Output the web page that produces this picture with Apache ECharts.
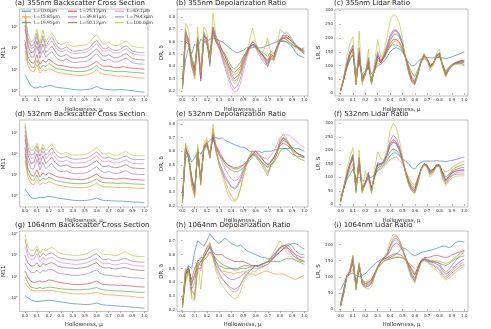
<!DOCTYPE html>
<html><head><meta charset="utf-8">
<script src="https://cdn.jsdelivr.net/npm/echarts@6/dist/echarts.min.js"></script>
<style>html,body{margin:0;padding:0;background:#fff}#c{width:491px;height:329px}</style>
</head><body><div id="c"></div>
<script>
// ---------------- data ----------------
const hollowness = [0,0.025,0.05,0.075,0.1,0.125,0.15,0.175,0.2,0.225,0.25,0.275,0.3,0.325,0.35,0.375,0.4,0.425,0.45,0.475,0.5,0.525,0.55,0.575,0.6,0.625,0.65,0.675,0.7,0.725,0.75,0.775,0.8,0.825,0.85,0.875,0.9,0.925,0.95,0.975,1.0];
const sizeLabels = ['L=10.0μm','L=15.85μm','L=19.95μm','L=25.12μm','L=39.81μm','L=50.12μm','L=63.1μm','L=79.43μm','L=100.0μm'];
const xTickValues = [0,0.1,0.2,0.3,0.4,0.5,0.6,0.7,0.8,0.9,1.0];
const drTickValues = [0.2,0.3,0.4,0.5,0.6,0.7,0.8];
const drTickValues1064 = [0.2,0.3,0.4,0.5,0.6,0.7];
const lrTickValues = [0,50,100,150,200,250,300];
const lrTickValues1064 = [0,50,100,150,200];

// (a) 355nm backscatter M11, stored as log10(M11)
const bsc355_log10 = [
[0.77,0.5,0.25,0.15,0.15,0.2,0.18,0.22,0.26,0.25,0.2,0.17,0.15,0.14,0.12,0.1,0.08,0.07,0.06,0.06,0.07,0.08,0.1,0.15,0.22,0.15,0.1,0.08,0.07,0.06,0.05,0.06,0.07,0.06,0.05,0.03,0.02,0.0,-0.02,-0.04,-0.05],
[1.9,1.2,0.95,0.9,1.25,0.85,1.0,0.95,1.05,1.0,0.92,0.88,0.85,0.83,0.8,0.78,0.76,0.75,0.74,0.74,0.75,0.77,0.82,0.9,1.0,0.88,0.8,0.78,0.77,0.75,0.72,0.7,0.7,0.71,0.69,0.67,0.65,0.63,0.62,0.61,0.6],
[2.2,1.4,1.15,1.1,1.45,1.05,1.2,1.15,1.3,1.2,1.1,1.05,1.02,1.0,0.97,0.95,0.93,0.92,0.92,0.92,0.93,0.96,1.02,1.1,1.2,1.08,1.0,0.97,0.96,0.94,0.92,0.91,0.92,0.93,0.91,0.89,0.88,0.87,0.86,0.85,0.84],
[2.4,1.6,1.35,1.3,1.7,1.25,1.45,1.35,1.5,1.4,1.28,1.22,1.2,1.18,1.15,1.12,1.1,1.09,1.09,1.1,1.12,1.15,1.22,1.3,1.4,1.27,1.18,1.16,1.17,1.14,1.1,1.1,1.12,1.15,1.12,1.09,1.07,1.06,1.05,1.04,1.03],
[2.9,1.95,1.6,1.6,2.1,1.55,1.9,1.6,1.75,1.85,1.65,1.5,1.42,1.45,1.5,1.4,1.35,1.34,1.36,1.37,1.39,1.43,1.52,1.65,1.75,1.6,1.45,1.43,1.5,1.42,1.36,1.37,1.42,1.5,1.55,1.42,1.33,1.3,1.28,1.27,1.26],
[3.1,2.15,1.8,1.85,2.35,1.75,2.2,1.8,1.95,2.1,1.9,1.7,1.62,1.66,1.72,1.6,1.55,1.54,1.56,1.57,1.59,1.64,1.74,1.88,1.98,1.82,1.66,1.64,1.71,1.62,1.56,1.57,1.62,1.71,1.76,1.63,1.53,1.5,1.48,1.47,1.46],
[3.3,2.35,2.0,2.05,2.55,1.95,2.45,2.0,2.2,2.35,2.12,1.92,1.84,1.88,1.95,1.82,1.76,1.75,1.78,1.79,1.81,1.86,1.97,2.12,2.22,2.05,1.88,1.86,1.94,1.84,1.78,1.79,1.84,1.94,1.99,1.85,1.75,1.72,1.7,1.69,1.68],
[3.5,2.5,2.1,2.2,2.7,2.05,2.6,2.1,2.35,2.55,2.28,2.05,1.97,2.0,2.08,1.95,1.88,1.88,1.9,1.91,1.93,1.98,2.1,2.27,2.38,2.2,2.0,1.98,2.06,1.96,1.9,1.91,1.96,2.07,2.12,1.98,1.87,1.84,1.82,1.81,1.8],
[3.72,2.7,2.3,2.4,2.9,2.25,2.85,2.3,2.55,2.75,2.5,2.25,2.18,2.22,2.3,2.15,2.1,2.1,2.13,2.14,2.16,2.22,2.35,2.52,2.65,2.45,2.23,2.21,2.3,2.19,2.13,2.14,2.19,2.3,2.36,2.2,2.1,2.07,2.05,2.04,2.03]
];
// (b) 355nm depolarization ratio
const dr355 = [
[0.25,0.45,0.55,0.5,0.58,0.55,0.62,0.6,0.6,0.62,0.63,0.62,0.61,0.6,0.58,0.56,0.54,0.52,0.51,0.52,0.53,0.55,0.55,0.55,0.56,0.55,0.55,0.56,0.57,0.58,0.59,0.6,0.61,0.6,0.6,0.58,0.56,0.52,0.49,0.48,0.47],
[0.22,0.65,0.6,0.45,0.35,0.6,0.3,0.62,0.6,0.5,0.7,0.62,0.58,0.52,0.48,0.42,0.36,0.33,0.35,0.38,0.45,0.5,0.55,0.58,0.56,0.52,0.5,0.48,0.45,0.5,0.48,0.55,0.6,0.62,0.63,0.62,0.6,0.57,0.55,0.53,0.52],
[0.25,0.62,0.6,0.48,0.4,0.58,0.35,0.6,0.58,0.5,0.66,0.6,0.57,0.53,0.5,0.45,0.4,0.38,0.4,0.43,0.48,0.52,0.56,0.57,0.55,0.53,0.52,0.5,0.48,0.52,0.5,0.56,0.6,0.61,0.6,0.59,0.57,0.56,0.55,0.54,0.55],
[0.23,0.68,0.62,0.45,0.38,0.62,0.33,0.65,0.62,0.48,0.72,0.64,0.6,0.53,0.48,0.42,0.37,0.35,0.37,0.4,0.47,0.52,0.56,0.58,0.57,0.53,0.5,0.47,0.44,0.5,0.48,0.55,0.61,0.63,0.64,0.62,0.6,0.58,0.56,0.54,0.53],
[0.24,0.66,0.6,0.42,0.32,0.6,0.28,0.64,0.63,0.45,0.7,0.62,0.56,0.48,0.4,0.33,0.26,0.22,0.24,0.3,0.4,0.48,0.55,0.58,0.56,0.52,0.48,0.44,0.42,0.47,0.45,0.54,0.6,0.65,0.65,0.64,0.61,0.58,0.55,0.52,0.5],
[0.22,0.6,0.58,0.44,0.36,0.62,0.3,0.66,0.6,0.42,0.68,0.6,0.55,0.5,0.45,0.4,0.34,0.3,0.32,0.36,0.44,0.5,0.56,0.6,0.57,0.53,0.5,0.46,0.4,0.48,0.46,0.55,0.62,0.63,0.62,0.6,0.58,0.56,0.55,0.53,0.52],
[0.26,0.64,0.58,0.4,0.3,0.58,0.28,0.6,0.64,0.44,0.66,0.6,0.54,0.46,0.38,0.3,0.23,0.19,0.2,0.26,0.36,0.46,0.54,0.57,0.55,0.5,0.46,0.42,0.4,0.46,0.45,0.52,0.6,0.66,0.68,0.66,0.62,0.58,0.54,0.52,0.5],
[0.24,0.7,0.6,0.4,0.33,0.64,0.3,0.68,0.62,0.4,0.72,0.63,0.57,0.5,0.44,0.38,0.32,0.28,0.3,0.34,0.42,0.5,0.56,0.6,0.58,0.54,0.5,0.47,0.43,0.48,0.47,0.56,0.62,0.64,0.64,0.62,0.6,0.57,0.55,0.53,0.51],
[0.22,0.75,0.7,0.45,0.3,0.72,0.35,0.72,0.68,0.45,0.83,0.65,0.55,0.5,0.42,0.35,0.3,0.26,0.28,0.35,0.45,0.52,0.6,0.71,0.6,0.52,0.5,0.55,0.63,0.5,0.45,0.55,0.7,0.68,0.66,0.64,0.6,0.56,0.54,0.52,0.5]
];
// (c) 355nm lidar ratio
const lr355 = [
[10,50,90,120,140,80,110,70,80,90,70,85,100,105,115,130,150,160,165,160,150,130,110,100,100,115,125,128,130,128,128,130,130,128,125,128,132,136,140,145,150],
[8,45,90,130,150,40,130,55,70,100,45,80,110,105,125,145,170,185,190,180,160,130,95,60,45,75,110,130,125,105,110,130,135,100,75,90,100,110,115,118,120],
[10,50,95,125,140,55,120,60,75,95,50,85,120,110,130,150,170,175,175,170,155,130,100,75,60,85,115,125,120,100,108,128,132,105,80,95,105,110,112,115,115],
[8,50,100,140,160,40,140,50,75,110,40,85,130,110,130,155,180,195,195,185,165,130,90,55,40,75,115,135,125,100,110,135,140,100,70,90,100,110,115,118,120],
[8,50,105,145,165,35,150,45,70,120,35,90,140,115,135,165,200,220,225,210,180,130,80,45,35,70,115,140,125,95,108,138,145,100,65,85,100,108,110,112,110],
[10,50,100,140,160,40,145,50,75,115,40,90,135,112,132,160,190,210,215,205,175,130,85,50,38,72,112,138,122,98,108,135,142,102,68,88,100,108,112,114,112],
[8,52,105,150,170,30,155,40,65,125,35,95,145,115,138,170,205,225,228,212,180,128,78,40,30,68,115,142,125,92,106,140,148,98,62,84,98,106,108,108,105],
[8,55,110,150,175,30,165,40,70,130,35,95,150,118,140,172,210,228,230,215,182,128,78,42,32,68,118,140,122,90,105,138,145,95,60,85,98,105,108,108,102],
[5,60,130,180,205,30,225,30,70,160,30,110,195,130,150,200,260,285,280,255,200,125,70,40,30,68,120,145,115,80,100,145,160,95,60,88,100,105,105,102,98]
];
// (d) 532nm backscatter M11, stored as log10(M11)
const bsc532_log10 = [
[0.35,0.15,-0.05,-0.1,-0.08,-0.05,-0.06,-0.03,0.0,-0.02,-0.05,-0.08,-0.1,-0.12,-0.14,-0.16,-0.18,-0.19,-0.2,-0.2,-0.19,-0.18,-0.16,-0.12,-0.08,-0.14,-0.18,-0.2,-0.2,-0.21,-0.22,-0.22,-0.22,-0.23,-0.24,-0.25,-0.26,-0.27,-0.28,-0.29,-0.3],
[1.7,0.9,0.6,0.55,0.8,0.55,0.65,0.6,0.7,0.65,0.58,0.53,0.5,0.48,0.46,0.44,0.42,0.41,0.41,0.41,0.42,0.44,0.48,0.55,0.62,0.52,0.46,0.45,0.45,0.44,0.43,0.42,0.42,0.43,0.42,0.41,0.4,0.39,0.39,0.38,0.38],
[2.0,1.1,0.8,0.75,1.0,0.72,0.85,0.8,0.9,0.85,0.77,0.72,0.69,0.67,0.65,0.63,0.61,0.6,0.6,0.6,0.61,0.63,0.68,0.75,0.82,0.72,0.66,0.64,0.64,0.63,0.62,0.61,0.62,0.63,0.62,0.6,0.59,0.58,0.58,0.57,0.57],
[2.3,1.35,1.0,0.95,1.25,0.92,1.1,1.0,1.12,1.05,0.97,0.92,0.89,0.87,0.85,0.83,0.81,0.8,0.8,0.8,0.81,0.84,0.9,0.98,1.05,0.94,0.87,0.85,0.86,0.84,0.82,0.82,0.84,0.86,0.84,0.81,0.8,0.79,0.78,0.77,0.77],
[2.7,1.7,1.3,1.3,1.75,1.25,1.6,1.3,1.45,1.55,1.35,1.22,1.16,1.18,1.2,1.12,1.08,1.07,1.08,1.09,1.1,1.14,1.22,1.32,1.4,1.27,1.15,1.13,1.18,1.12,1.07,1.08,1.12,1.18,1.21,1.12,1.06,1.05,1.04,1.03,1.03],
[2.9,1.95,1.55,1.6,2.0,1.5,1.9,1.55,1.7,1.85,1.62,1.48,1.42,1.45,1.48,1.4,1.36,1.35,1.36,1.37,1.38,1.42,1.5,1.6,1.68,1.54,1.42,1.4,1.45,1.39,1.35,1.36,1.4,1.46,1.49,1.4,1.34,1.33,1.32,1.31,1.31],
[3.1,2.15,1.78,1.82,2.2,1.72,2.12,1.78,1.92,2.08,1.85,1.7,1.63,1.66,1.7,1.62,1.58,1.57,1.58,1.59,1.6,1.64,1.72,1.82,1.9,1.76,1.64,1.62,1.67,1.61,1.57,1.58,1.62,1.68,1.71,1.62,1.56,1.55,1.54,1.54,1.54],
[3.3,2.3,1.95,2.0,2.38,1.9,2.3,1.95,2.1,2.28,2.04,1.88,1.81,1.84,1.88,1.8,1.76,1.75,1.76,1.77,1.78,1.82,1.9,2.0,2.1,1.95,1.82,1.8,1.86,1.79,1.75,1.76,1.8,1.87,1.9,1.8,1.75,1.74,1.74,1.74,1.74],
[3.45,2.5,2.15,2.2,2.5,2.1,2.45,2.15,2.3,2.48,2.25,2.08,2.0,2.03,2.08,1.99,1.95,1.94,1.95,1.96,1.98,2.02,2.1,2.2,2.32,2.15,2.01,1.99,2.05,1.98,1.94,1.95,2.0,2.08,2.12,2.0,1.94,1.93,1.92,1.92,1.92]
];
// (e) 532nm depolarization ratio
const dr532 = [
[0.25,0.55,0.58,0.52,0.55,0.6,0.58,0.62,0.66,0.68,0.7,0.7,0.69,0.7,0.68,0.67,0.66,0.65,0.64,0.63,0.63,0.62,0.6,0.6,0.6,0.6,0.59,0.6,0.6,0.6,0.61,0.61,0.62,0.62,0.62,0.62,0.63,0.62,0.62,0.61,0.6],
[0.22,0.65,0.55,0.35,0.27,0.62,0.35,0.64,0.68,0.55,0.76,0.62,0.52,0.45,0.38,0.32,0.27,0.24,0.26,0.32,0.42,0.5,0.56,0.6,0.58,0.55,0.52,0.48,0.45,0.5,0.52,0.58,0.66,0.7,0.68,0.64,0.6,0.57,0.55,0.54,0.53],
[0.25,0.6,0.55,0.4,0.32,0.58,0.4,0.6,0.64,0.58,0.7,0.62,0.58,0.54,0.5,0.48,0.46,0.45,0.45,0.46,0.48,0.5,0.53,0.56,0.58,0.55,0.52,0.5,0.48,0.5,0.52,0.55,0.6,0.62,0.62,0.6,0.58,0.57,0.56,0.56,0.55],
[0.24,0.62,0.57,0.4,0.3,0.6,0.38,0.62,0.66,0.58,0.72,0.64,0.6,0.56,0.52,0.5,0.48,0.47,0.47,0.48,0.5,0.52,0.55,0.57,0.6,0.57,0.55,0.52,0.5,0.52,0.55,0.6,0.65,0.68,0.67,0.65,0.62,0.6,0.58,0.57,0.56],
[0.23,0.62,0.55,0.38,0.28,0.6,0.36,0.63,0.66,0.55,0.73,0.6,0.5,0.45,0.4,0.37,0.34,0.33,0.35,0.4,0.46,0.52,0.56,0.58,0.56,0.53,0.5,0.46,0.42,0.5,0.53,0.58,0.66,0.7,0.68,0.65,0.62,0.6,0.58,0.56,0.55],
[0.24,0.6,0.56,0.42,0.32,0.6,0.4,0.62,0.65,0.58,0.7,0.63,0.58,0.55,0.52,0.5,0.49,0.48,0.48,0.49,0.5,0.52,0.55,0.58,0.6,0.58,0.55,0.52,0.5,0.52,0.55,0.6,0.64,0.66,0.65,0.63,0.61,0.59,0.58,0.57,0.56],
[0.23,0.6,0.55,0.4,0.3,0.62,0.38,0.64,0.67,0.58,0.74,0.65,0.58,0.52,0.47,0.43,0.4,0.38,0.39,0.42,0.47,0.52,0.57,0.6,0.6,0.58,0.56,0.55,0.54,0.57,0.6,0.65,0.7,0.72,0.72,0.72,0.7,0.68,0.66,0.64,0.63],
[0.25,0.63,0.57,0.4,0.3,0.62,0.38,0.63,0.66,0.55,0.72,0.6,0.52,0.47,0.42,0.38,0.34,0.32,0.34,0.38,0.45,0.5,0.55,0.58,0.57,0.54,0.52,0.5,0.48,0.53,0.56,0.6,0.68,0.7,0.69,0.66,0.62,0.6,0.58,0.57,0.56],
[0.22,0.66,0.6,0.35,0.26,0.65,0.35,0.66,0.7,0.55,0.8,0.62,0.5,0.42,0.35,0.28,0.24,0.23,0.25,0.32,0.43,0.5,0.56,0.6,0.58,0.55,0.52,0.48,0.44,0.48,0.52,0.58,0.68,0.73,0.7,0.65,0.6,0.57,0.55,0.54,0.53]
];
// (f) 532nm lidar ratio
const lr532 = [
[30,60,90,110,130,95,100,90,85,95,100,110,125,135,145,160,180,190,190,180,170,160,150,135,130,145,155,160,160,160,160,162,160,160,158,160,162,165,168,172,175],
[20,55,95,125,150,70,130,60,75,95,60,100,125,130,140,150,165,172,175,165,150,125,100,80,70,100,130,145,140,125,130,140,140,130,120,125,135,145,150,155,160],
[15,55,100,140,170,60,155,60,80,105,60,100,135,140,150,170,195,205,200,185,160,125,90,70,60,95,130,150,145,125,130,145,145,120,100,110,125,135,140,145,148],
[12,60,105,145,175,55,160,55,80,110,55,105,145,145,155,180,215,230,225,200,165,120,85,62,55,90,130,150,145,120,128,145,145,115,90,105,120,128,132,135,138],
[10,60,110,150,180,50,170,50,78,115,50,110,150,150,160,190,235,255,245,215,170,120,80,55,48,85,130,150,142,115,125,145,145,110,85,100,115,122,125,128,130],
[10,58,108,148,178,52,165,52,80,112,52,108,148,148,158,185,225,240,232,208,168,120,82,58,50,88,130,150,142,118,126,145,145,112,88,102,116,122,124,125,125],
[10,60,110,150,182,48,170,48,78,118,48,112,152,150,160,188,225,238,230,205,165,118,78,52,45,82,128,148,140,112,122,142,142,105,80,95,108,115,118,120,120],
[8,60,112,152,185,45,175,45,76,120,45,115,155,150,160,185,220,232,225,200,162,115,75,50,42,80,126,148,138,108,120,140,140,100,75,92,105,110,112,112,112],
[5,65,130,175,210,40,200,40,125,90,40,130,195,170,165,200,270,300,285,240,180,115,70,48,40,78,125,150,135,100,115,140,140,90,68,85,98,103,105,105,105]
];
// (g) 1064nm backscatter M11, stored as log10(M11)
const bsc1064_log10 = [
[0.1,0.0,-0.1,-0.15,-0.19,-0.17,-0.15,-0.13,-0.12,-0.13,-0.15,-0.18,-0.2,-0.22,-0.24,-0.26,-0.28,-0.29,-0.3,-0.31,-0.32,-0.32,-0.31,-0.28,-0.25,-0.3,-0.33,-0.35,-0.36,-0.37,-0.38,-0.39,-0.4,-0.41,-0.42,-0.43,-0.45,-0.46,-0.47,-0.48,-0.49],
[0.7,0.5,0.38,0.33,0.32,0.34,0.32,0.33,0.35,0.34,0.32,0.29,0.27,0.25,0.23,0.21,0.19,0.18,0.18,0.18,0.18,0.19,0.2,0.23,0.26,0.21,0.17,0.15,0.14,0.13,0.12,0.11,0.1,0.09,0.08,0.07,0.05,0.04,0.02,0.01,0.0],
[1.0,0.7,0.5,0.46,0.44,0.48,0.44,0.47,0.5,0.49,0.47,0.44,0.42,0.41,0.4,0.39,0.38,0.37,0.37,0.38,0.39,0.4,0.42,0.45,0.48,0.42,0.38,0.36,0.35,0.34,0.33,0.32,0.32,0.31,0.3,0.29,0.28,0.27,0.26,0.26,0.25],
[1.28,0.95,0.78,0.72,0.75,0.8,0.74,0.78,0.84,0.82,0.78,0.74,0.71,0.69,0.67,0.65,0.63,0.62,0.62,0.63,0.64,0.66,0.69,0.74,0.79,0.7,0.64,0.62,0.61,0.6,0.6,0.59,0.59,0.58,0.57,0.56,0.55,0.53,0.52,0.51,0.5],
[1.65,1.35,1.2,1.18,1.3,1.15,1.28,1.25,1.35,1.33,1.25,1.18,1.14,1.12,1.1,1.08,1.06,1.05,1.06,1.08,1.1,1.14,1.2,1.26,1.3,1.18,1.1,1.07,1.06,1.04,1.02,1.01,1.02,1.0,0.98,0.96,0.95,0.94,0.93,0.92,0.91],
[2.0,1.65,1.5,1.5,1.65,1.45,1.62,1.55,1.62,1.66,1.58,1.5,1.45,1.43,1.41,1.4,1.39,1.38,1.39,1.41,1.43,1.47,1.53,1.6,1.65,1.52,1.43,1.4,1.42,1.38,1.36,1.37,1.4,1.42,1.41,1.37,1.34,1.32,1.3,1.29,1.28],
[2.45,1.95,1.8,1.82,2.05,1.7,1.9,1.78,1.87,1.9,1.82,1.72,1.66,1.64,1.62,1.6,1.58,1.57,1.58,1.6,1.62,1.66,1.73,1.8,1.85,1.72,1.62,1.6,1.63,1.58,1.55,1.56,1.6,1.63,1.62,1.57,1.54,1.52,1.51,1.5,1.5],
[2.75,2.15,1.98,2.0,2.3,1.9,2.1,1.98,2.08,2.12,2.02,1.92,1.86,1.84,1.82,1.8,1.78,1.77,1.78,1.8,1.82,1.86,1.93,2.02,2.08,1.93,1.82,1.8,1.83,1.78,1.74,1.75,1.8,1.85,1.84,1.77,1.72,1.7,1.69,1.68,1.68],
[3.0,2.4,2.22,2.25,2.45,2.1,2.32,2.22,2.32,2.38,2.28,2.15,2.08,2.06,2.04,2.02,2.0,1.99,2.0,2.02,2.05,2.1,2.18,2.26,2.3,2.16,2.06,2.03,2.06,2.02,1.98,2.0,2.08,2.15,2.16,2.06,1.99,1.97,1.95,1.94,1.94]
];
// (h) 1064nm depolarization ratio
const dr1064 = [
[0.25,0.45,0.52,0.5,0.62,0.7,0.68,0.66,0.7,0.75,0.72,0.7,0.68,0.7,0.72,0.7,0.68,0.67,0.66,0.67,0.65,0.63,0.62,0.61,0.6,0.59,0.58,0.58,0.57,0.57,0.58,0.6,0.62,0.64,0.66,0.67,0.68,0.68,0.67,0.65,0.64],
[0.22,0.4,0.48,0.35,0.3,0.5,0.55,0.58,0.6,0.62,0.58,0.52,0.5,0.48,0.48,0.47,0.47,0.46,0.47,0.47,0.48,0.47,0.46,0.46,0.45,0.46,0.47,0.48,0.48,0.47,0.46,0.46,0.46,0.46,0.45,0.44,0.43,0.42,0.43,0.44,0.45],
[0.23,0.42,0.5,0.4,0.45,0.52,0.55,0.56,0.58,0.62,0.6,0.55,0.52,0.51,0.5,0.5,0.5,0.49,0.49,0.5,0.5,0.5,0.51,0.51,0.52,0.52,0.53,0.54,0.55,0.55,0.55,0.55,0.55,0.56,0.57,0.57,0.57,0.56,0.55,0.54,0.53],
[0.24,0.45,0.5,0.42,0.5,0.55,0.58,0.58,0.62,0.66,0.62,0.6,0.6,0.6,0.58,0.57,0.56,0.55,0.55,0.55,0.55,0.54,0.53,0.52,0.52,0.52,0.53,0.54,0.55,0.56,0.58,0.6,0.62,0.64,0.65,0.64,0.62,0.6,0.59,0.58,0.58],
[0.23,0.48,0.5,0.35,0.4,0.55,0.52,0.58,0.62,0.66,0.6,0.55,0.5,0.47,0.45,0.43,0.42,0.42,0.43,0.44,0.46,0.48,0.49,0.5,0.52,0.52,0.53,0.54,0.55,0.57,0.6,0.63,0.65,0.66,0.67,0.68,0.66,0.63,0.61,0.6,0.6],
[0.24,0.46,0.5,0.38,0.45,0.56,0.55,0.58,0.62,0.65,0.6,0.57,0.55,0.53,0.52,0.51,0.5,0.5,0.5,0.51,0.52,0.52,0.52,0.52,0.52,0.51,0.51,0.52,0.53,0.55,0.58,0.62,0.65,0.67,0.66,0.64,0.6,0.58,0.57,0.56,0.55],
[0.23,0.5,0.48,0.33,0.32,0.52,0.48,0.6,0.64,0.67,0.58,0.5,0.45,0.42,0.4,0.37,0.34,0.33,0.34,0.38,0.43,0.46,0.48,0.5,0.5,0.5,0.51,0.52,0.53,0.55,0.58,0.62,0.64,0.65,0.64,0.62,0.6,0.58,0.56,0.55,0.55],
[0.22,0.48,0.52,0.3,0.28,0.5,0.5,0.6,0.65,0.68,0.6,0.52,0.47,0.43,0.4,0.38,0.36,0.35,0.36,0.38,0.42,0.45,0.48,0.5,0.52,0.52,0.53,0.54,0.55,0.58,0.6,0.62,0.65,0.66,0.67,0.66,0.63,0.6,0.57,0.56,0.55],
[0.22,0.5,0.48,0.28,0.27,0.55,0.35,0.58,0.66,0.69,0.58,0.48,0.42,0.38,0.35,0.32,0.3,0.28,0.29,0.33,0.4,0.44,0.46,0.48,0.48,0.5,0.52,0.53,0.55,0.58,0.62,0.66,0.7,0.66,0.62,0.6,0.58,0.56,0.55,0.55,0.55]
];
// (i) 1064nm lidar ratio
const lr1064 = [
[60,80,100,108,112,105,100,105,110,120,130,140,148,152,155,158,160,165,170,180,190,188,180,170,165,170,175,178,180,182,185,188,192,195,195,190,195,205,210,210,208],
[20,60,100,110,125,80,120,90,85,88,95,110,128,140,150,155,158,160,162,162,160,155,145,135,125,135,148,155,152,150,150,150,148,145,142,145,152,160,168,175,180],
[15,60,105,115,140,75,130,90,80,85,90,108,125,138,148,152,155,158,160,160,158,152,140,125,110,130,148,155,150,148,146,145,142,138,135,140,148,155,160,163,165],
[12,55,100,115,150,70,135,85,78,82,90,110,130,145,155,160,165,170,172,170,165,155,140,120,105,128,150,160,160,162,165,166,165,162,160,162,168,172,176,178,182],
[10,50,100,118,160,65,138,82,75,78,85,108,132,150,160,168,190,210,215,205,185,160,130,105,90,120,148,158,155,150,148,146,142,125,115,122,135,148,160,170,175],
[10,50,102,115,158,68,135,80,72,75,82,105,130,148,158,165,180,198,205,198,182,160,135,110,95,122,148,156,152,146,144,140,135,118,108,115,125,135,142,150,155],
[10,50,100,118,162,62,140,80,70,72,80,105,132,150,160,170,198,222,228,215,190,160,128,100,85,118,146,155,150,142,138,132,125,110,100,108,118,128,135,142,145],
[8,48,98,120,165,60,142,78,68,70,78,104,130,148,158,168,195,215,220,210,188,158,128,100,86,118,145,152,148,140,135,128,120,105,95,102,112,120,128,135,138],
[8,45,95,125,168,58,145,75,65,62,70,100,128,150,162,175,210,232,230,215,190,155,120,92,80,115,142,150,145,135,128,120,110,98,90,95,105,112,120,128,132]
];

// ---------------- chart ----------------
const FONT = 'DejaVu Sans';
const colors = ['#1f77b4','#ff7f0e','#2ca02c','#d62728','#9467bd','#8c564b','#e377c2','#7f7f7f','#bcbd22'];
const sup = {'-1':'⁻¹','0':'⁰','1':'¹','2':'²','3':'³','4':'⁴'};
const panels = [
 {t:'(a) 355nm Backscatter Cross Section', d:bsc355_log10, log:true, yl:'M11', g:[16,9,132,87], ymin:-0.23, ymax:3.85},
 {t:'(b) 355nm Depolarization Ratio', d:dr355, yl:'DR, δ', g:[177,9,131,87], ymin:0.16, ymax:0.865, yt:drTickValues},
 {t:'(c) 355nm Lidar Ratio', d:lr355, yl:'LR, S', g:[335,9,133,87], ymin:-10, ymax:305, yt:lrTickValues},
 {t:'(d) 532nm Backscatter Cross Section', d:bsc532_log10, log:true, yl:'M11', g:[16,120,132,87], ymin:-0.5, ymax:3.6},
 {t:'(e) 532nm Depolarization Ratio', d:dr532, yl:'DR, δ', g:[177,120,131,87], ymin:0.19, ymax:0.83, yt:drTickValues},
 {t:'(f) 532nm Lidar Ratio', d:lr532, yl:'LR, S', g:[335,120,133,87], ymin:-10, ymax:312, yt:lrTickValues},
 {t:'(g) 1064nm Backscatter Cross Section', d:bsc1064_log10, log:true, yl:'M11', g:[16,231,132,86], ymin:-0.65, ymax:3.15},
 {t:'(h) 1064nm Depolarization Ratio', d:dr1064, yl:'DR, δ', g:[177,231,131,86], ymin:0.19, ymax:0.77, yt:drTickValues1064},
 {t:'(i) 1064nm Lidar Ratio', d:lr1064, yl:'LR, S', g:[335,231,133,86], ymin:-7, ymax:242, yt:lrTickValues1064}
];
const AX = '#555', TXT = '#333';
const option = {
  animation:false, backgroundColor:'#fff',
  title: panels.map(p => ({text:p.t, left:p.g[0]-1, top:p.g[1]-9, padding:0,
    textStyle:{fontFamily:FONT, fontSize:7, fontWeight:'normal', color:'#222'}})),
  grid: panels.map(p => ({left:p.g[0], top:p.g[1], width:p.g[2], height:p.g[3], show:true, borderColor:'#999', borderWidth:0.6, containLabel:false})),
  xAxis: panels.map((p,i) => ({gridIndex:i, type:'value', min:-0.045, max:1.03,
    axisLine:{show:false}, splitLine:{show:false},
    axisTick:{show:true, length:1.5, lineStyle:{color:AX, width:0.5}, customValues:xTickValues},
    axisLabel:{fontFamily:FONT, fontSize:4, color:TXT, margin:2, customValues:xTickValues, formatter:v=>v.toFixed(1)},
    name:'Hollowness, μ', nameLocation:'middle', nameGap:10.5, nameTextStyle:{fontFamily:FONT, fontSize:5.5, color:TXT}})),
  yAxis: panels.map((p,i) => {
    const base = {gridIndex:i, axisLine:{show:false}, splitLine:{show:false},
      name:p.yl, nameLocation:'middle', nameRotate:90, nameGap:(i%3===2?10:11),
      nameTextStyle:{fontFamily:FONT, fontSize:5.5, color:TXT}};
    if (p.log) {
      return Object.assign(base, {type:'log', logBase:10, min:Math.pow(10,p.ymin), max:Math.pow(10,p.ymax),
        axisTick:{show:false},
        axisLabel:{fontFamily:FONT, fontSize:4, color:TXT, margin:2, showMinLabel:false, showMaxLabel:false,
          formatter:v=>{const l=Math.log10(v); const e=Math.round(l); if(Math.abs(l-e)>1e-6) return ''; return '10'+sup[String(e)];}}});
    }
    return Object.assign(base, {type:'value', min:p.ymin, max:p.ymax,
      axisTick:{show:true, length:1.5, lineStyle:{color:AX, width:0.5}, customValues:p.yt},
      axisLabel:{fontFamily:FONT, fontSize:4, color:TXT, margin:2, customValues:p.yt,
        formatter:v=> (p.yt[p.yt.length-1] > 10 ? String(Math.round(v)) : v.toFixed(1))}});
  }),
  legend: [0,1,2].map(c => ({data:sizeLabels.slice(c*3,c*3+3), orient:'vertical', left:[22,68,115][c], top:9,
    padding:0, itemWidth:9, itemHeight:1.2, itemGap:1.3, icon:'rect', selectedMode:false,
    textStyle:{fontFamily:FONT, fontSize:4.4, color:TXT, lineHeight:4.4, padding:[0,0,0,-2]}})),
  series: []
};
panels.forEach((p,i) => {
  p.d.forEach((vals,k) => {
    option.series.push({type:'line', name:sizeLabels[k], xAxisIndex:i, yAxisIndex:i,
      showSymbol:false, symbol:'none', clip:true, silent:true,
      data: hollowness.map((x,j) => [x, p.log ? Math.pow(10, vals[j]) : vals[j]]),
      lineStyle:{width:0.8, color:colors[k], opacity:0.75}, itemStyle:{color:colors[k], opacity:0.75}});
  });
});
const chart = echarts.init(document.getElementById('c'), null, {renderer:'canvas'});
chart.setOption(option);
</script>
</body></html>
